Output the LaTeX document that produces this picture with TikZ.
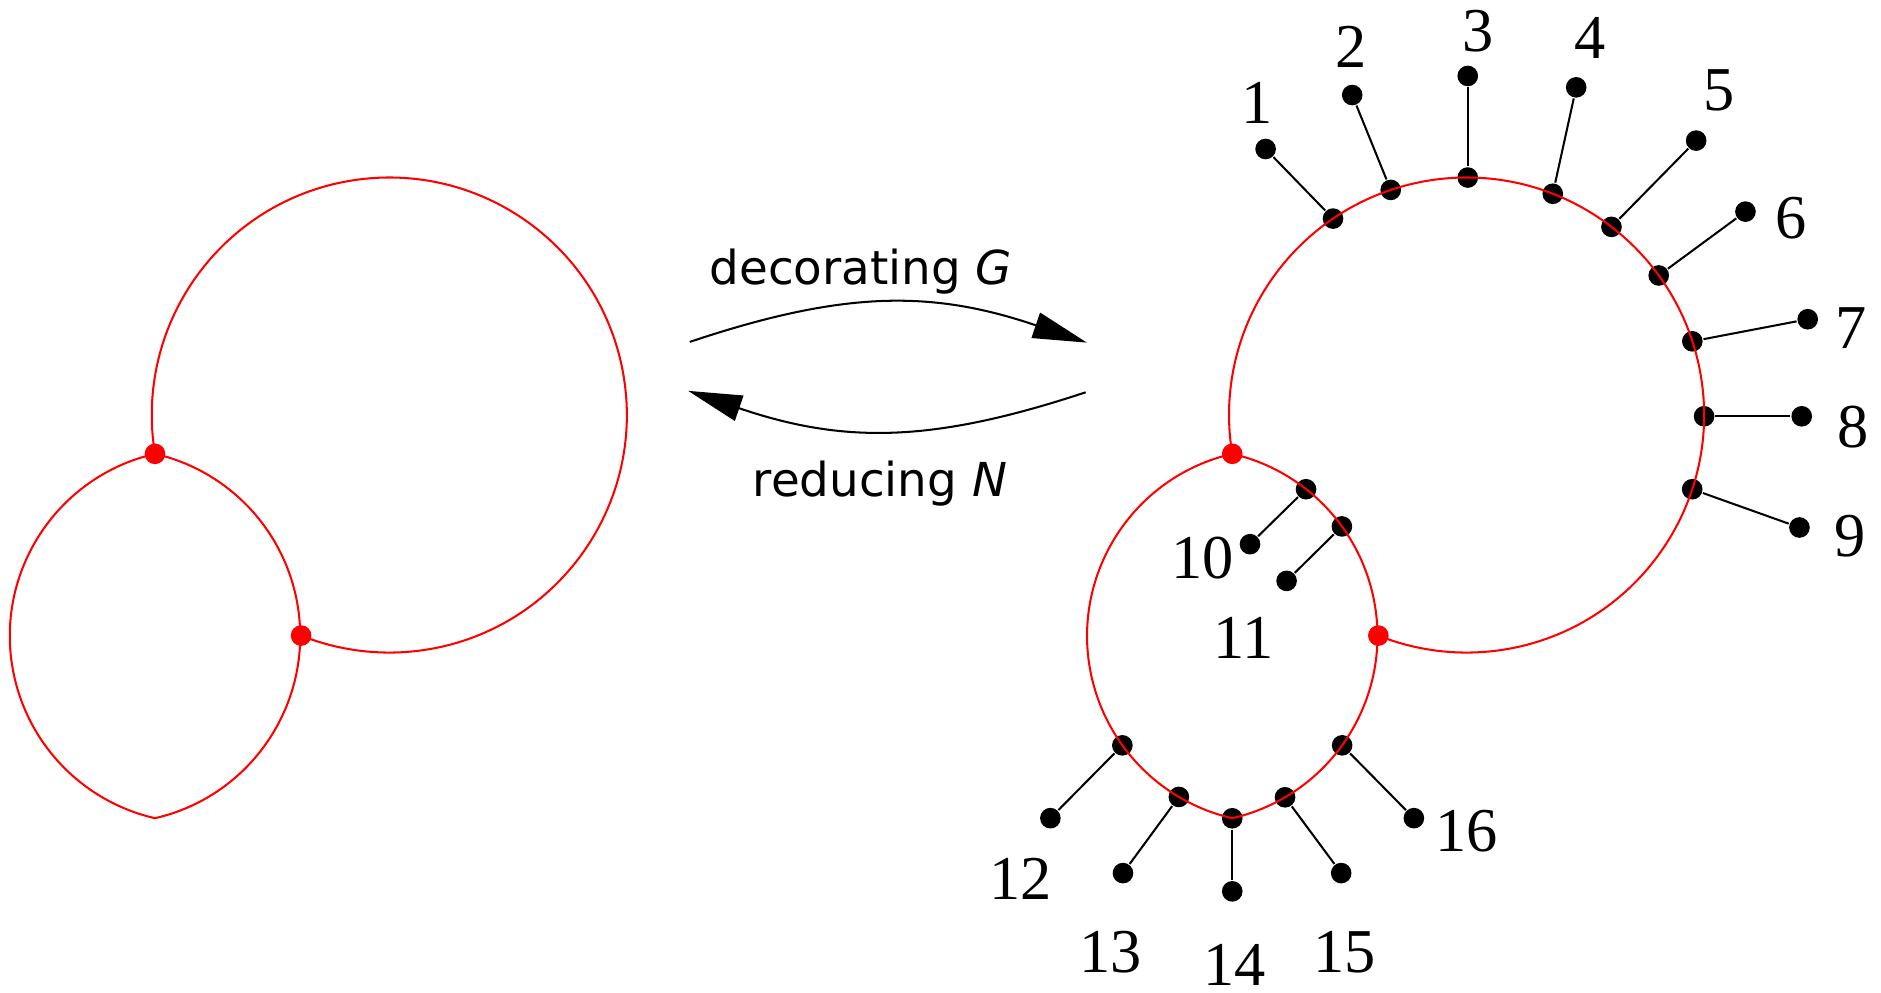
\documentclass[tikz,border=0pt]{standalone}
\usepackage{fontspec}
\usepackage{tikz}
\usetikzlibrary{arrows.meta}
\newfontfamily\numfont{Liberation Serif}
\newfontfamily\tagfont{DejaVu Sans}[ItalicFont={DejaVu Sans Oblique}]

\tikzset{
  loopline/.style={red, line width=0.85pt},
  leg/.style={black, line width=0.85pt},
  bdot/.style={circle, fill=black, inner sep=0pt, minimum size=8.6pt},
  rdot/.style={circle, fill=red, inner sep=0pt, minimum size=8.6pt},
  num/.style={font=\numfont\fontsize{26}{30}\selectfont, inner sep=0pt},
  tag/.style={font=\tagfont\fontsize{19.5}{23}\selectfont, inner sep=0pt, anchor=base},
}

\begin{document}
\begin{tikzpicture}[x=0.5pt, y=-0.5pt, line width=0.85pt, >={Triangle[length=22.5pt, width=11pt]}]
  \useasboundingbox (0,0) rectangle (1568,827);

  % the graph G
  \coordinate (gA) at (129.2,378.3);
  \coordinate (gB) at (251.0,529.8);
  \draw [loopline] (gA) arc [start angle=170.6, end angle=471.8, radius=198];
  \draw [loopline] (gA) arc [start angle=257.1, end angle=102.9, radius=155.8]
                        arc [start angle=77.1, end angle=-77.1, radius=155.8];
  \node [rdot] (gAv) at (gA) {};
  \node [rdot] (gBv) at (gB) {};

  % the two maps between G and N
  \coordinate (decS) at (575,285);
  \coordinate (decE) at (906,285.6);
  \coordinate (redS) at (905,327);
  \coordinate (redE) at (573.6,325.8);
  \draw [->] (decS) .. controls (704,241.8) and (777,241.8) .. (decE);
  \draw [->] (redS) .. controls (776,369.7) and (702.6,369.7) .. (redE);
  \node [tag] (decT) at (717.6,237) {decorating \textit{G}};
  \node [tag] (redT) at (733.5,414) {reducing \textit{N}};

  % the decorated graph N: legs on the big loop
  \node [bdot] (v1) at (1111.2,182.2) {};
  \node [bdot] (v2) at (1159.3,158.3) {};
  \node [bdot] (v3) at (1223.5,148.0) {};
  \node [bdot] (v4) at (1294.4,161.5) {};
  \node [bdot] (v5) at (1343.3,189.1) {};
  \node [bdot] (v6) at (1382.7,229.6) {};
  \node [bdot] (v7) at (1410.7,284.5) {};
  \node [bdot] (v8) at (1420.5,347.0) {};
  \node [bdot] (v9) at (1410.6,407.8) {};
  % legs on the lens
  \node [bdot] (v10) at (1088.7,407.8) {};
  \node [bdot] (v11) at (1118.6,438.8) {};
  \node [bdot] (v12) at (935.6,621.3) {};
  \node [bdot] (v13) at (982.7,664.3) {};
  \node [bdot] (v14) at (1027.2,682.1) {};
  \node [bdot] (v15) at (1071.2,664.6) {};
  \node [bdot] (v16) at (1118.8,621.3) {};

  % leaves
  \node [bdot] (l1) at (1055,124.2) {};
  \node [bdot] (l2) at (1127.2,79.2) {};
  \node [bdot] (l3) at (1223.5,63.3) {};
  \node [bdot] (l4) at (1313.9,72.8) {};
  \node [bdot] (l5) at (1413.9,117.2) {};
  \node [bdot] (l6) at (1455,176.4) {};
  \node [bdot] (l7) at (1506.9,266.1) {};
  \node [bdot] (l8) at (1501.9,347.0) {};
  \node [bdot] (l9) at (1500,439.7) {};
  \node [bdot] (l10) at (1042,453.6) {};
  \node [bdot] (l11) at (1072.5,484.2) {};
  \node [bdot] (l12) at (875.6,682) {};
  \node [bdot] (l13) at (936.1,727.8) {};
  \node [bdot] (l14) at (1027.2,743) {};
  \node [bdot] (l15) at (1118,727.8) {};
  \node [bdot] (l16) at (1178.6,682) {};

  \draw [leg] (v1) -- (l1);
  \draw [leg] (v2) -- (l2);
  \draw [leg] (v3) -- (l3);
  \draw [leg] (v4) -- (l4);
  \draw [leg] (v5) -- (l5);
  \draw [leg] (v6) -- (l6);
  \draw [leg] (v7) -- (l7);
  \draw [leg] (v8) -- (l8);
  \draw [leg] (v9) -- (l9);
  \draw [leg] (v10) -- (l10);
  \draw [leg] (v11) -- (l11);
  \draw [leg] (v12) -- (l12);
  \draw [leg] (v13) -- (l13);
  \draw [leg] (v14) -- (l14);
  \draw [leg] (v15) -- (l15);
  \draw [leg] (v16) -- (l16);

  % loops of N over the leg ends
  \coordinate (nA) at (1027.2,378.3);
  \coordinate (nB) at (1149.0,529.8);
  \draw [loopline] (nA) arc [start angle=170.6, end angle=471.8, radius=198];
  \draw [loopline] (nA) arc [start angle=257.1, end angle=102.9, radius=155.8]
                        arc [start angle=77.1, end angle=-77.1, radius=155.8];
  \node [rdot] (nAv) at (nA) {};
  \node [rdot] (nBv) at (nB) {};

  % leaf numbers
  \node [num] (t1) at (1048,86.1) {1};
  \node [num] (t2) at (1126.4,38.9) {2};
  \node [num] (t3) at (1232,25.6) {3};
  \node [num] (t4) at (1325.8,31.9) {4};
  \node [num] (t5) at (1433,75) {5};
  \node [num] (t6) at (1493,182) {6};
  \node [num] (t7) at (1543,273.6) {7};
  \node [num] (t8) at (1544.4,356.1) {8};
  \node [num] (t9) at (1542.2,447.2) {9};
  \node [num] (t10) at (1002.8,465.3) {10};
  \node [num] (t11) at (1036.7,532) {11};
  \node [num] (t12) at (851,733) {12};
  \node [num] (t13) at (925.8,793.6) {13};
  \node [num] (t14) at (1029.2,804.5) {14};
  \node [num] (t15) at (1120.8,793.6) {15};
  \node [num] (t16) at (1222.2,692.5) {16};
\end{tikzpicture}
\end{document}
